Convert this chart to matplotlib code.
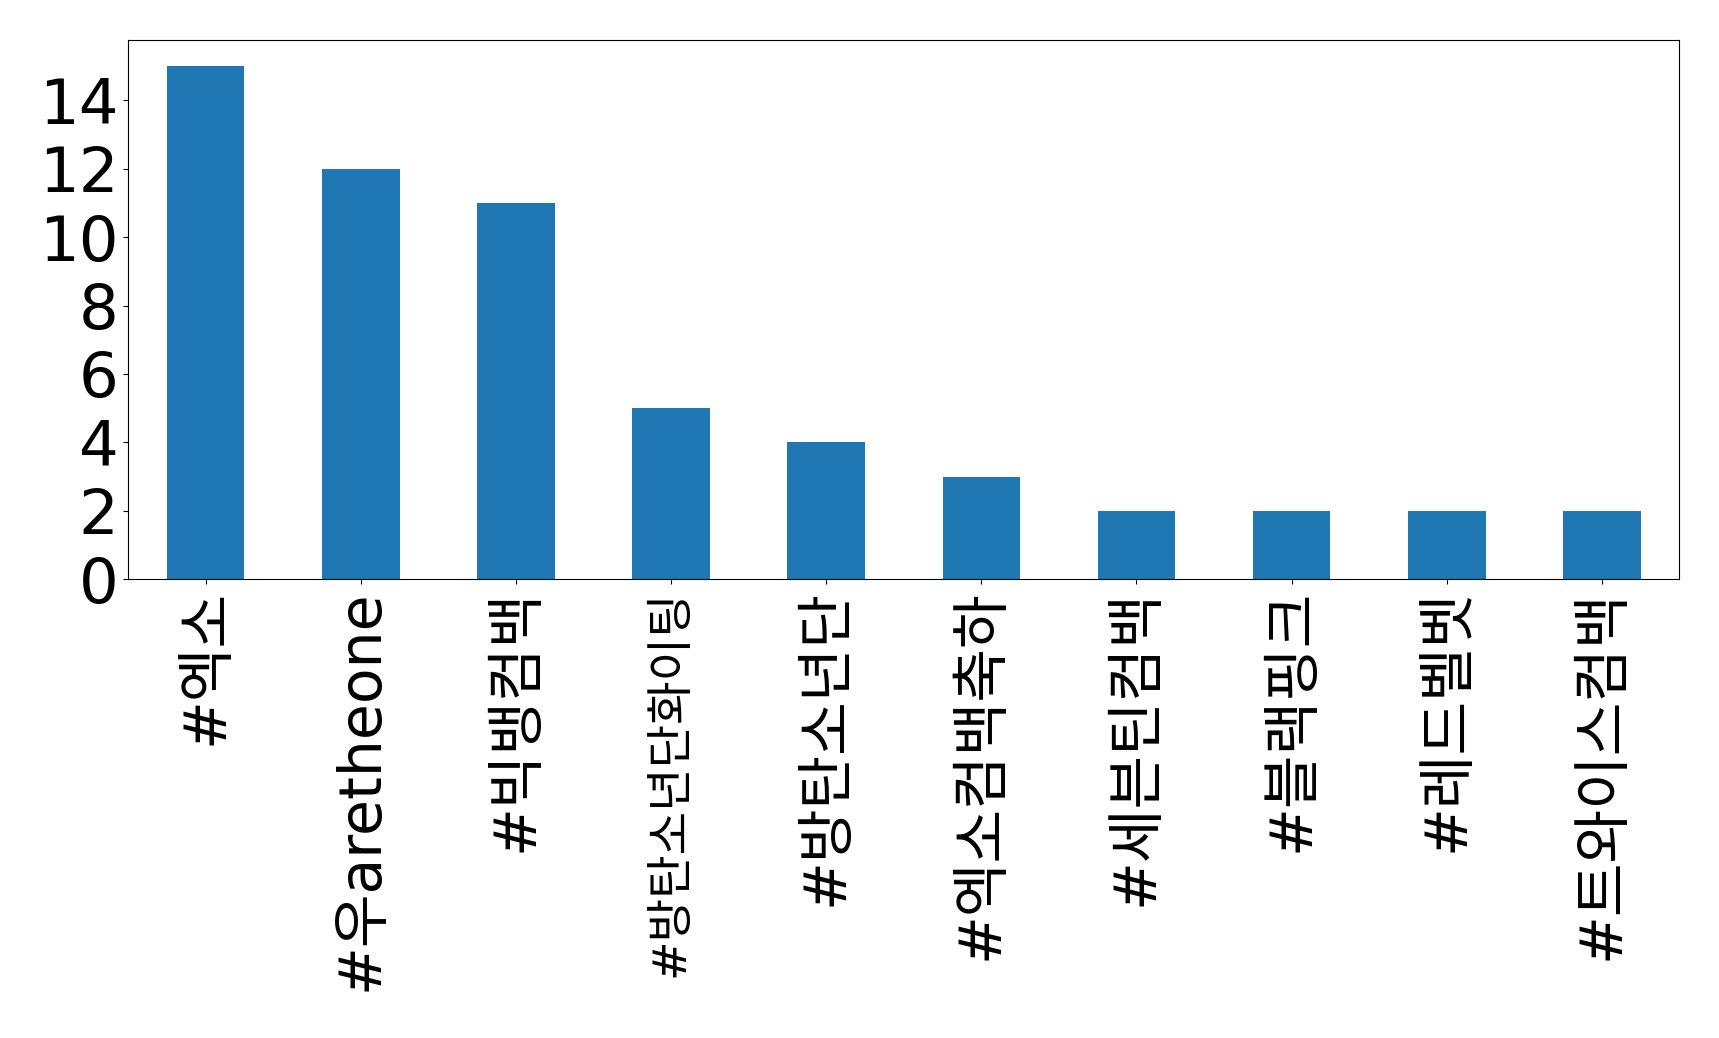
import pandas as pd
import matplotlib.pyplot as plt
import matplotlib.ticker

plt.rcParams['font.family'] = ['DejaVu Sans', 'Noto Sans CJK KR']

tags = ['#엑소', '#우aretheone', '#빅뱅컴백', '#방탄소년단화이팅', '#방탄소년단',
        '#엑소컴백축하', '#세븐틴컴백', '#블랙핑크', '#레드벨벳', '#트와이스컴백']
counts = [15, 12, 11, 5, 4, 3, 2, 2, 2, 2]

s = pd.Series(counts, index=tags)

figure = plt.figure(figsize=(17.19, 10.38), dpi=100)
axes = figure.add_subplot(1, 1, 1)
s.plot.bar(ax=axes)
axes.yaxis.set_major_locator(matplotlib.ticker.MultipleLocator(2))
axes.tick_params(axis='y', labelsize=45)
axes.tick_params(axis='x', labelsize=42)
# the longest tag does not fit under the axes at full size
axes.get_xticklabels()[3].set_fontsize(34)
figure.subplots_adjust(left=0.0745, right=0.977, top=0.961, bottom=0.442)
plt.savefig('out.png', dpi=100)
